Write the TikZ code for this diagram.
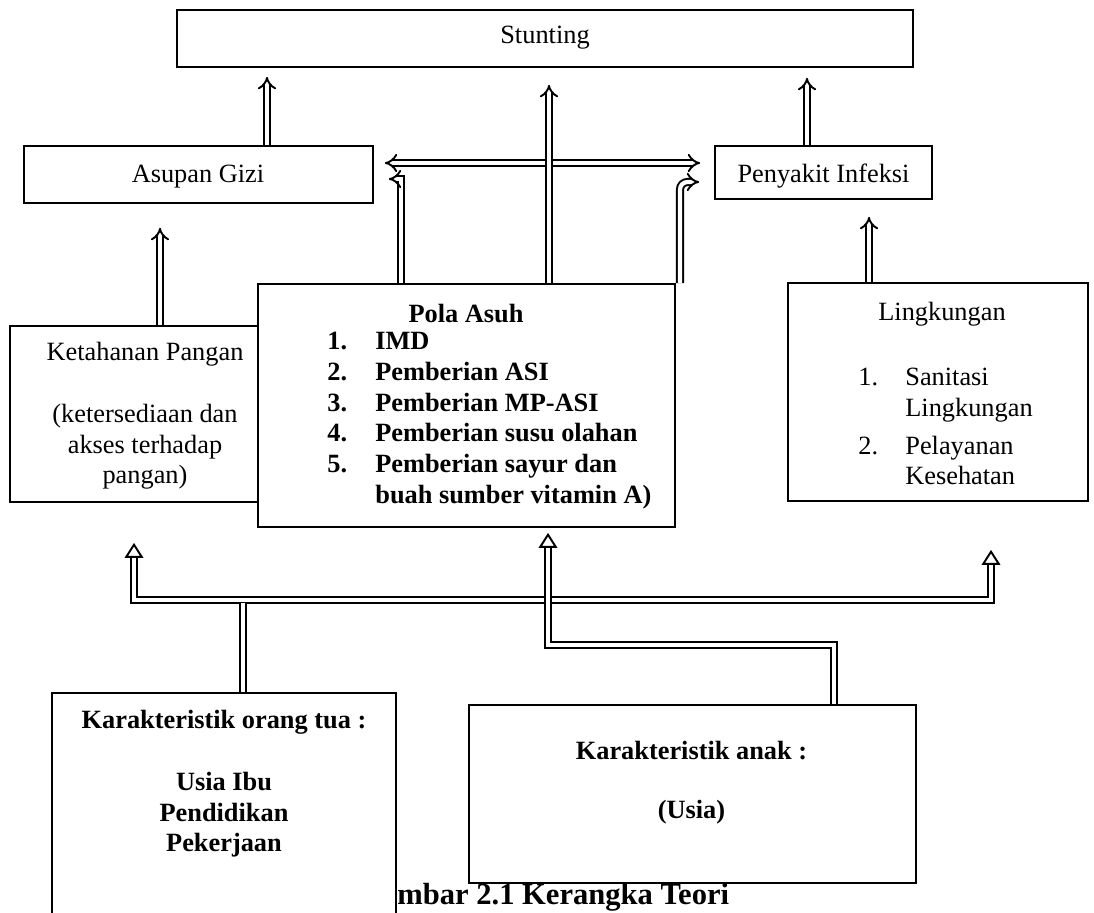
\documentclass[tikz,border=0pt]{standalone}
\usepackage{fontspec}
\setmainfont{Liberation Serif}
\usetikzlibrary{arrows.meta}

\tikzset{
  box/.style={draw, fill=white, line width=1pt, inner sep=0pt},
  txt/.style={inner sep=0pt, font=\fontsize{15}{17.58}\selectfont},
  btxt/.style={txt, font=\fontsize{15}{17.58}\selectfont\bfseries},
  dbl/.style={double, double distance=2.4pt, line width=1.1pt},
  hollow/.tip={Triangle[open, width=10.5pt, length=8.5pt, line width=1.1pt]},
}

\begin{document}
\begin{tikzpicture}[x=0.02cm, y=-0.02cm]
\path[use as bounding box, clip] (0,0) rectangle (1094,912);

% top row
\node[box, minimum width=14.72cm, minimum height=1.14cm] (stunting) at (545,38.5) {};
\node[txt, anchor=base] (stuntingtxt) at (545,44) {Stunting};

\node[box, minimum width=6.98cm, minimum height=1.14cm] (asupan) at (198.5,174.5) {};
\node[txt, anchor=base] (asupantxt) at (198,183) {Asupan Gizi};

\node[box, minimum width=4.34cm, minimum height=1.06cm] (infeksi) at (823.5,172.5) {};
\node[txt, anchor=base] (infeksitxt) at (823.5,182) {Penyakit Infeksi};

% middle row
\node[box, minimum width=5.4cm, minimum height=3.52cm] (ketahanan) at (145,414) {};
\node[txt, align=center, anchor=north] (ketahanantxt) at (145,338.3)
  {\strut Ketahanan Pangan\\[0.62cm](ketersediaan dan\\akses terhadap\\pangan)};

\node[box, minimum width=8.34cm, minimum height=4.86cm] (pola) at (466.5,405.5) {};
\node[btxt, anchor=base] (polahead) at (466,322) {Pola Asuh};
\node[btxt, anchor=north west] (polalist) at (327,327.3) {%
\begin{tabular}{@{}p{0.96cm}@{}l@{}}
1. & IMD\\
2. & Pemberian ASI\\
3. & Pemberian MP-ASI\\
4. & Pemberian susu olahan\\
5. & Pemberian sayur dan\\
   & buah sumber vitamin A)
\end{tabular}};

\node[box, minimum width=6cm, minimum height=4.36cm] (lingkungan) at (938,392) {};
\node[txt, anchor=base] (lingkunganhead) at (942,320) {Lingkungan};
\node[txt, anchor=north west] (lingkunganlist) at (858,363.3) {%
\begin{tabular}{@{}p{0.94cm}@{}l@{}}
1. & Sanitasi\\
   & Lingkungan\\[0.14cm]
2. & Pelayanan\\
   & Kesehatan
\end{tabular}};

% bottom row
\node[box, minimum width=6.88cm, minimum height=5.14cm] (ortu) at (224,821.5) {};
\node[btxt, align=center, anchor=north] (ortutxt) at (224,706.3)
  {\strut Karakteristik orang tua :\\[0.62cm]Usia Ibu\\Pendidikan\\Pekerjaan};

\node[box, minimum width=8.94cm, minimum height=3.56cm] (anak) at (692.5,794) {};
\node[btxt, align=center, anchor=north] (anaktxt) at (691.5,737.3)
  {\strut Karakteristik anak :\\[0.56cm](Usia)};

\node[inner sep=0pt, anchor=base west, font=\fontsize{17.4}{20}\selectfont\bfseries]
  (caption) at (397,904) {mbar 2.1 Kerangka Teori};

% arrows up to Stunting
\coordinate (xa) at (267,0);
\coordinate (xm) at (549,0);
\coordinate (xi) at (807,0);
\coordinate (yh) at (0,163);
\coordinate (bl) at (401,179);
\coordinate (br) at (680,182);
\draw[dbl, -Implies, shorten >=0.18cm] (asupan.north -| xa) -- (stunting.south -| xa);
\draw[dbl, -Implies, shorten >=0.2cm] (infeksi.north -| xi) -- (stunting.south -| xi);
\draw[dbl, Implies-Implies, shorten <=0.22cm, shorten >=0.28cm] (asupan.east |- yh) -- (infeksi.west |- yh);
\draw[dbl, -Implies, shorten >=0.34cm] (pola.north -| xm) -- (stunting.south -| xm);
\draw[dbl, -Implies, shorten >=0.3cm] (pola.north -| bl) |- (asupan.east |- bl);
\draw[dbl, -Implies, rounded corners=0.15cm, shorten >=0.3cm] (pola.north -| br) |- (infeksi.west |- br);

% arrows into the middle row
\coordinate (xk) at (160,0);
\coordinate (xl) at (869,0);
\draw[dbl, -Implies, shorten >=0.48cm] (ketahanan.north -| xk) -- (asupan.south -| xk);
\draw[dbl, -Implies, shorten >=0.34cm] (lingkungan.north -| xl) -- (infeksi.south -| xl);

% bus from the bottom row
\coordinate (bus) at (548,600);
\coordinate (xkb) at (134,0);
\coordinate (xlb) at (991,0);
\coordinate (xo) at (243,0);
\coordinate (yo) at (0,603);
\coordinate (m1) at (548,645);
\coordinate (xn) at (834,0);
\draw[dbl, hollow-hollow, shorten <=0.8cm, shorten >=0.96cm]
  (ketahanan.south -| xkb) |- (bus) -| (lingkungan.south -| xlb);
\draw[dbl] (ortu.north -| xo) -- (xo |- yo);
\draw[dbl, -hollow, shorten >=0.1cm] (anak.north -| xn) |- (m1) -- (pola.south -| m1);
\end{tikzpicture}
\end{document}
